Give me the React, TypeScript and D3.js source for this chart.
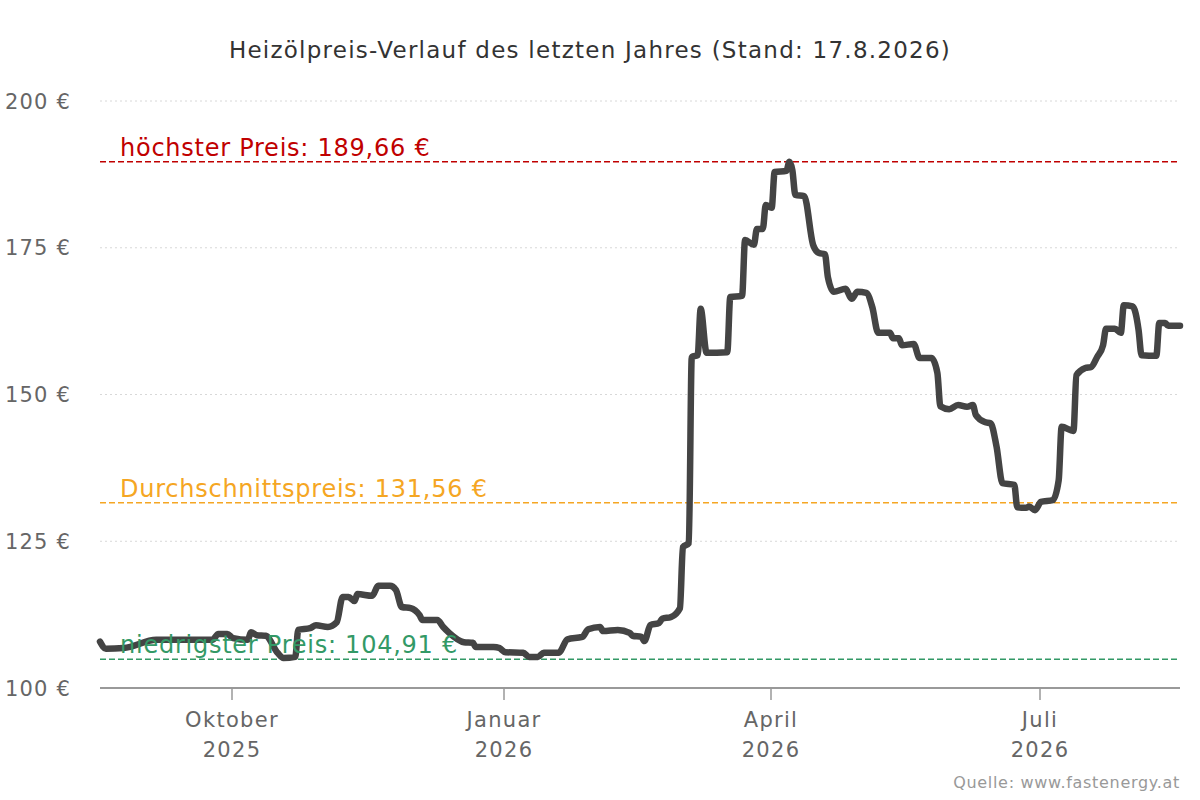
import React, { useRef, useEffect } from "react"
import * as d3 from "d3"

const priceDates = [
  "2025-08-17", "2025-08-19", "2025-08-25", "2025-09-05", "2025-09-24", "2025-09-26", "2025-09-29",
  "2025-10-01", "2025-10-06", "2025-10-07", "2025-10-09", "2025-10-12", "2025-10-16", "2025-10-18",
  "2025-10-22", "2025-10-23", "2025-10-27", "2025-10-29", "2025-11-02", "2025-11-05", "2025-11-07",
  "2025-11-09", "2025-11-11", "2025-11-12", "2025-11-17", "2025-11-19", "2025-11-23", "2025-11-25",
  "2025-11-27", "2025-11-30", "2025-12-03", "2025-12-04", "2025-12-09", "2025-12-11", "2025-12-13",
  "2025-12-18", "2025-12-21", "2025-12-22", "2025-12-28", "2025-12-30", "2026-01-01", "2026-01-07",
  "2026-01-09", "2026-01-12", "2026-01-14", "2026-01-19", "2026-01-22", "2026-01-27", "2026-01-29",
  "2026-02-02", "2026-02-03", "2026-02-08", "2026-02-12", "2026-02-13", "2026-02-16", "2026-02-17",
  "2026-02-19", "2026-02-22", "2026-02-23", "2026-02-26", "2026-03-01", "2026-03-02", "2026-03-04",
  "2026-03-05", "2026-03-07", "2026-03-08", "2026-03-10", "2026-03-17", "2026-03-18", "2026-03-22",
  "2026-03-23", "2026-03-26", "2026-03-27", "2026-03-29", "2026-03-30", "2026-04-01", "2026-04-02",
  "2026-04-06", "2026-04-07", "2026-04-08", "2026-04-09", "2026-04-12", "2026-04-15", "2026-04-17",
  "2026-04-19", "2026-04-20", "2026-04-22", "2026-04-26", "2026-04-28", "2026-04-30", "2026-05-03",
  "2026-05-05", "2026-05-07", "2026-05-11", "2026-05-12", "2026-05-14", "2026-05-15", "2026-05-19",
  "2026-05-21", "2026-05-25", "2026-05-27", "2026-05-28", "2026-05-31", "2026-06-03", "2026-06-06",
  "2026-06-08", "2026-06-09", "2026-06-12", "2026-06-14", "2026-06-16", "2026-06-18", "2026-06-22",
  "2026-06-23", "2026-06-26", "2026-06-27", "2026-06-29", "2026-07-01", "2026-07-05", "2026-07-07",
  "2026-07-08", "2026-07-12", "2026-07-13", "2026-07-16", "2026-07-18", "2026-07-20", "2026-07-22",
  "2026-07-23", "2026-07-26", "2026-07-28", "2026-07-29", "2026-08-01", "2026-08-03", "2026-08-04",
  "2026-08-09", "2026-08-10", "2026-08-12", "2026-08-13", "2026-08-17",
]

const priceValues = [
  107.9, 106.7, 106.8, 108.2, 108.2, 109.2, 109.2,
  108.5, 108.2, 109.5, 109.0, 108.9, 106.0, 105.1,
  105.3, 109.9, 110.2, 110.7, 110.4, 111.2, 115.5,
  115.5, 114.8, 116.0, 115.7, 117.4, 117.4, 116.7,
  113.8, 113.6, 112.4, 111.6, 111.6, 110.4, 109.4,
  107.8, 107.7, 107.0, 107.0, 106.8, 106.1, 106.0,
  105.3, 105.3, 106.0, 106.0, 108.3, 108.7, 110.0,
  110.4, 109.7, 109.9, 109.4, 108.9, 108.7, 108.0,
  110.7, 111.1, 111.8, 112.1, 113.6, 124.0, 124.7,
  156.4, 156.7, 164.6, 157.1, 157.2, 166.6, 166.8,
  176.3, 175.5, 178.2, 178.2, 182.3, 181.8, 187.9,
  188.1, 189.66, 188.2, 184.0, 183.8, 175.5, 174.1,
  173.9, 170.0, 167.5, 168.0, 166.3, 167.5, 167.3,
  164.9, 160.5, 160.5, 159.6, 159.6, 158.4, 158.6,
  156.2, 156.2, 153.7, 148.0, 147.5, 148.2, 147.9,
  148.2, 146.5, 145.3, 145.1, 141.1, 134.9, 134.6,
  130.8, 130.7, 130.9, 130.3, 131.7, 132.0, 135.4,
  144.5, 143.8, 153.3, 154.5, 154.7, 156.4, 158.4,
  161.2, 161.2, 160.5, 165.2, 165.0, 161.0, 156.7,
  156.6, 162.2, 162.2, 161.7, 161.7,
]

const yTicks = [100, 125, 150, 175, 200]
const xTickDates = ["2025-10-01", "2026-01-01", "2026-04-01", "2026-07-01"]
const xTickMonths = ["Oktober", "Januar", "April", "Juli"]
const xTickYears = ["2025", "2026", "2026", "2026"]

const refLabels = ["höchster Preis: 189,66 €", "Durchschnittspreis: 131,56 €", "niedrigster Preis: 104,91 €"]
const refValues = [189.66, 131.56, 104.91]
const refColors = ["#c00000", "#f5a623", "#339966"]

const width = 1200
const height = 800
const font = "DejaVu Sans, Verdana, sans-serif"

type Point = { date: Date; value: number }

const App: React.FC = () => {
  const svgRef = useRef<SVGSVGElement | null>(null)

  useEffect(() => {
    if (!svgRef.current) return
    const svg = d3.select(svgRef.current)
    svg.selectAll("*").remove()

    const parse = d3.utcParse("%Y-%m-%d")
    const data: Point[] = priceDates.map((d, i) => ({ date: parse(d) as Date, value: priceValues[i] }))

    const x = d3
      .scaleUtc()
      .domain([parse("2025-08-17") as Date, parse("2026-08-17") as Date])
      .range([100, 1180])
    const y = d3.scaleLinear().domain([100, 200]).range([688, 101])

    svg.append("rect").attr("width", width).attr("height", height).attr("fill", "#fff")

    // title
    svg
      .append("text")
      .attr("x", 590)
      .attr("y", 58)
      .attr("text-anchor", "middle")
      .style("font-family", font)
      .style("font-size", "23px")
      .style("letter-spacing", "1.25px")
      .style("fill", "#333")
      .text("Heizölpreis-Verlauf des letzten Jahres (Stand: 17.8.2026)")

    // grid + y labels
    yTicks.forEach((t) => {
      if (t > 100) {
        svg
          .append("line")
          .attr("x1", 100)
          .attr("x2", 1180)
          .attr("y1", y(t))
          .attr("y2", y(t))
          .attr("stroke", "#d8d8d8")
          .attr("stroke-width", 1)
          .attr("stroke-dasharray", "2,3")
      }
      svg
        .append("text")
        .attr("x", 71)
        .attr("y", y(t))
        .attr("dy", "0.36em")
        .attr("text-anchor", "end")
        .style("font-family", font)
        .style("font-size", "21px")
        .style("letter-spacing", "1.2px")
        .style("fill", "#666")
        .text(`${t} €`)
    })

    // x axis
    svg
      .append("line")
      .attr("x1", 100)
      .attr("x2", 1180)
      .attr("y1", 688)
      .attr("y2", 688)
      .attr("stroke", "#999")
      .attr("stroke-width", 2)

    xTickDates.forEach((d, i) => {
      const px = Math.round(x(parse(d) as Date)) - 1
      svg
        .append("line")
        .attr("x1", px)
        .attr("x2", px)
        .attr("y1", 688)
        .attr("y2", 700)
        .attr("stroke", "#999")
        .attr("stroke-width", 1.5)
      svg
        .append("text")
        .attr("x", px)
        .attr("y", 727)
        .attr("text-anchor", "middle")
        .style("font-family", font)
        .style("font-size", "21px")
        .style("letter-spacing", "1.3px")
        .style("fill", "#666")
        .text(xTickMonths[i])
      svg
        .append("text")
        .attr("x", px)
        .attr("y", 757)
        .attr("text-anchor", "middle")
        .style("font-family", font)
        .style("font-size", "21px")
        .style("letter-spacing", "1.3px")
        .style("fill", "#666")
        .text(xTickYears[i])
    })

    // reference lines
    refValues.forEach((v, i) => {
      svg
        .append("line")
        .attr("x1", 100)
        .attr("x2", 1180)
        .attr("y1", y(v))
        .attr("y2", y(v))
        .attr("stroke", refColors[i])
        .attr("stroke-width", 1.5)
        .attr("stroke-dasharray", "6,3")
    })

    // price line
    const line = d3
      .line<Point>()
      .x((d) => x(d.date))
      .y((d) => y(d.value))
      .curve(d3.curveMonotoneX)

    svg
      .append("path")
      .datum(data)
      .attr("fill", "none")
      .attr("stroke", "#444")
      .attr("stroke-width", 6.5)
      .attr("stroke-linejoin", "round")
      .attr("stroke-linecap", "round")
      .attr("d", line)

    // reference labels
    refValues.forEach((v, i) => {
      svg
        .append("text")
        .attr("x", 120)
        .attr("y", y(v) - 6)
        .style("font-family", font)
        .style("font-size", "24px")
        .style("letter-spacing", "0.75px")
        .style("fill", refColors[i])
        .text(refLabels[i])
    })

    // source
    svg
      .append("text")
      .attr("x", 1180)
      .attr("y", 788)
      .attr("text-anchor", "end")
      .style("font-family", font)
      .style("font-size", "16px")
      .style("letter-spacing", "0.7px")
      .style("fill", "#999")
      .text("Quelle: www.fastenergy.at")
  }, [])

  return (
    <svg
      ref={svgRef}
      width={width}
      height={height}
      style={{ position: "absolute", left: 0, top: 0, display: "block" }}
    ></svg>
  )
}

export default App
